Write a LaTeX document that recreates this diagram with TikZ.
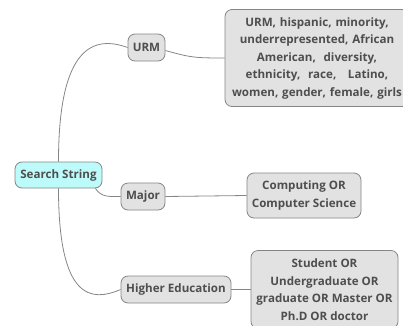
\documentclass[tikz,border=0pt]{standalone}
\usepackage{fontspec}
\setmainfont{Open Sans}
\usepackage{tikz}
\usetikzlibrary{calc}

\definecolor{boxfill}{HTML}{E2E2E2}
\definecolor{boxline}{HTML}{858585}
\definecolor{rootfill}{HTML}{BDFBFB}
\definecolor{labeltext}{HTML}{4E4E4E}

\tikzset{
    topic/.style={draw=boxline, fill=boxfill, rounded corners=7pt, line width=0.8pt,
        text=labeltext, font=\bfseries\fontsize{11.6}{17.5}\selectfont,
        align=center, minimum height=27pt, inner xsep=4pt, inner ysep=3pt},
    roottopic/.style={topic, fill=rootfill},
    branch/.style={draw=boxline, line width=0.8pt}
}

\begin{document}
\begin{tikzpicture}[x=1pt, y=-1pt]
    \clip (0,0) rectangle (403,325);

    \node[roottopic, minimum width=87pt, minimum height=26pt] (search) at (58.5,175) {Search String};

    \node[topic, minimum width=37pt] (urm) at (146.5,47.5) {URM};
    \node[topic, minimum width=44pt] (major) at (143,196.5) {Major};
    \node[topic, minimum width=110pt] (higher) at (176,289.5) {Higher Education};

    \node[topic, minimum width=176pt, minimum height=97pt, text width=176pt] (urmterms) at (317,58)
        {URM, hispanic, minority,\\ underrepresented, African\\ American,\ \ diversity,\\ ethnicity,\ \ race,\ \ \ Latino,\\ women, gender, female, girls};
    \node[topic, minimum width=114pt, minimum height=45pt] (majorterms) at (304,195.5)
        {Computing OR\\ Computer Science};
    \node[topic, minimum width=147pt, minimum height=78pt] (higherterms) at (324.5,289.5)
        {Student OR\\ Undergraduate OR\\ graduate OR Master OR\\ Ph.D OR doctor};

    % branches from the root
    \draw[branch] (search.north) .. controls +(0,-117) and +(-33,-12) .. (urm.west);
    \draw[branch] ($(search.south east)+(-7,0)$) .. controls +(6,9) and +(-12,0) .. (major.west);
    \draw[branch] (search.south) .. controls +(0,112) and +(-29,12.5) .. (higher.west);

    % terms
    \draw[branch] ($(urm.east)+(0,3)$) .. controls +(25,7) and +(-30,0) .. (urmterms.west);
    \draw[branch] (major.east) -- (majorterms.west);
    \draw[branch] (higher.east) -- (higherterms.west);
\end{tikzpicture}
\end{document}
